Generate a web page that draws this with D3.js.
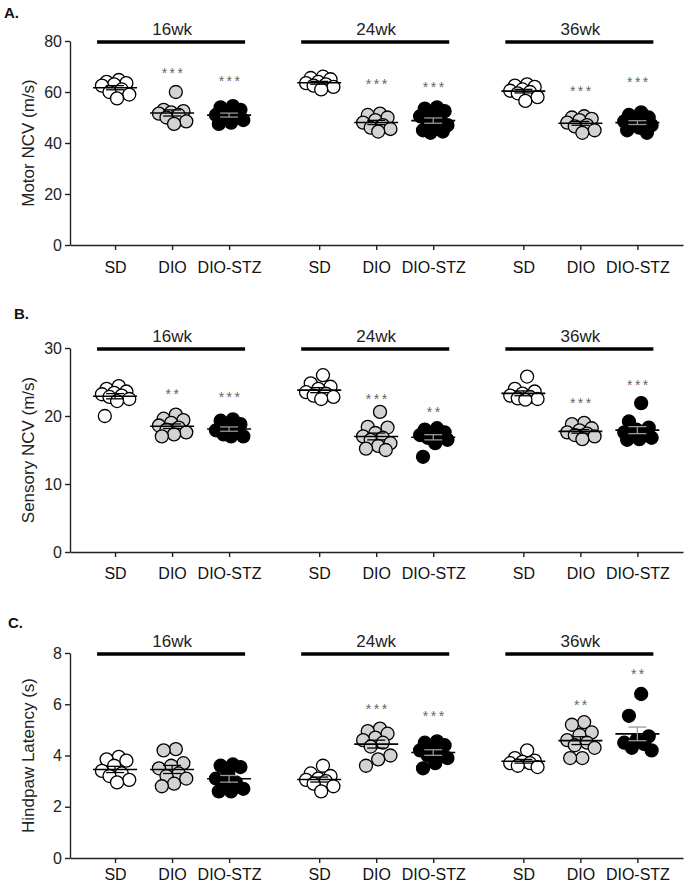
<!DOCTYPE html>
<html>
<head>
<meta charset="utf-8">
<script src="https://cdn.jsdelivr.net/npm/d3@7"></script>
<style>
  html, body { margin: 0; padding: 0; background: #fff; }
  svg { display: block; font-family: "Liberation Sans", Arial, Helvetica, sans-serif; }
</style>
</head>
<body>
<svg id="chart" width="689" height="888"></svg>
<script>
// ---------- DATA ----------
const groups = ["SD", "DIO", "DIO-STZ"];
const timepoints = ["16wk", "24wk", "36wk"];
const groupFills = ["#ffffff", "#d3d3d3", "#000000"];

// Motor NCV (m/s): order = [16wk SD, DIO, DIO-STZ, 24wk SD, DIO, DIO-STZ, 36wk SD, DIO, DIO-STZ]
const motorNCV = [
  [64.7, 64.0, 63.5, 63.0, 62.5, 61.0, 60.0, 59.0, 57.5],
  [60.0, 53.0, 52.5, 52.0, 51.5, 51.0, 50.0, 48.5, 47.5],
  [54.5, 54.0, 53.0, 52.0, 51.0, 50.5, 50.0, 49.0, 48.0, 47.5],
  [66.0, 65.5, 65.0, 64.0, 63.5, 63.0, 62.5, 62.0, 61.0],
  [51.5, 51.0, 50.0, 49.0, 48.0, 47.0, 46.0, 45.5, 44.5],
  [54.0, 53.5, 52.5, 51.5, 50.5, 49.0, 48.0, 47.0, 46.0, 45.0, 44.5, 44.0],
  [63.0, 62.5, 62.0, 61.0, 60.5, 60.0, 59.5, 58.0, 56.5],
  [50.5, 50.0, 49.5, 49.0, 48.0, 47.0, 46.5, 45.0, 44.0],
  [52.0, 51.0, 50.0, 49.0, 48.5, 48.0, 47.5, 47.0, 46.0, 45.0, 44.0]
];
const motorStars = ["", "***", "***", "", "***", "***", "", "***", "***"];
const motorStarLevel = [null, 68.6, 65.1, null, 64.3, 63.1, null, 61.5, 65.0];

// Sensory NCV (m/s)
const sensoryNCV = [
  [24.4, 24.0, 23.6, 23.4, 23.2, 23.0, 22.8, 22.5, 22.2, 20.0],
  [20.2, 19.6, 19.4, 19.0, 18.6, 18.3, 18.0, 17.6, 17.3, 17.0],
  [19.5, 19.3, 18.8, 18.3, 17.9, 17.6, 17.3, 17.0, 17.0],
  [26.0, 24.8, 24.3, 24.0, 23.5, 23.3, 23.0, 22.8, 22.5],
  [20.6, 18.4, 18.3, 17.5, 17.0, 16.8, 16.5, 16.0, 15.6, 15.2, 15.0],
  [18.2, 18.0, 17.6, 17.4, 17.2, 17.0, 16.8, 16.5, 16.0, 14.0],
  [25.8, 24.0, 23.6, 23.3, 23.0, 22.8, 22.6, 22.5, 22.4],
  [19.0, 18.8, 18.2, 17.9, 17.6, 17.4, 17.2, 17.0, 16.6],
  [21.9, 19.2, 18.3, 18.0, 17.6, 17.3, 17.0, 16.8, 16.6, 16.5]
];
const sensoryStars = ["", "**", "***", "", "***", "**", "", "***", "***"];
const sensoryStarLevel = [null, 23.6, 23.1, null, 22.8, 20.9, null, 22.3, 25.0];

// Hindpaw latency (s)
const hindpawLatency = [
  [3.95, 3.85, 3.8, 3.6, 3.4, 3.3, 3.2, 3.05, 2.95],
  [4.25, 4.2, 3.7, 3.6, 3.5, 3.3, 3.2, 3.1, 2.9, 2.8],
  [3.65, 3.6, 3.55, 3.3, 3.1, 2.95, 2.85, 2.7, 2.6, 2.6],
  [3.6, 3.3, 3.2, 3.1, 3.05, 3.0, 2.9, 2.8, 2.6],
  [5.05, 4.95, 4.85, 4.7, 4.6, 4.5, 4.35, 4.0, 3.85, 3.6],
  [4.55, 4.5, 4.4, 4.3, 4.2, 4.1, 4.0, 3.9, 3.7, 3.5],
  [4.2, 3.9, 3.8, 3.75, 3.7, 3.7, 3.6, 3.55],
  [5.3, 5.2, 4.9, 4.8, 4.6, 4.5, 4.4, 4.3, 3.9, 3.9],
  [6.4, 5.55, 4.75, 4.6, 4.5, 4.45, 4.3, 4.2]
];
const hindpawStars = ["", "", "", "", "***", "***", "", "**", "**"];
const hindpawStarLevel = [null, null, null, null, 5.91, 5.63, null, 6.05, 7.27];

const motorTicks = [0, 20, 40, 60, 80];
const sensoryTicks = [0, 10, 20, 30];
const hindpawTicks = [0, 2, 4, 6, 8];

// ---------- LAYOUT ----------
const svg = d3.select("#chart");
const axisLeftX = 70, axisRightX = 683;
const groupGap = 3.58; // category-position offset between timepoint blocks
const x = d3.scaleLinear().domain([-0.79, 9.96]).range([axisLeftX, axisRightX]);
const posOf = (t, g) => t * groupGap + g;
const R = 6.5;
const SPREAD = 16;

const panels = [
  { letter: "A.", letterX: 4, letterY: 18, title: "Motor NCV (m/s)", data: motorNCV, stars: motorStars, starLevel: motorStarLevel,
    ticks: motorTicks, top: 41, bottom: 245, labPad: 12 },
  { letter: "B.", letterX: 14, letterY: 319, title: "Sensory NCV (m/s)", data: sensoryNCV, stars: sensoryStars, starLevel: sensoryStarLevel,
    ticks: sensoryTicks, top: 348, bottom: 552, labPad: 11 },
  { letter: "C.", letterX: 8, letterY: 628, title: "Hindpaw Latency (s)", data: hindpawLatency, stars: hindpawStars, starLevel: hindpawStarLevel,
    ticks: hindpawTicks, top: 653, bottom: 858, labPad: 6 }
];

// deterministic scatter offsets: low-discrepancy sequence over value rank
function jitter(values) {
  const order = values.map((v, i) => i).sort((a, b) => values[b] - values[a]);
  const off = new Array(values.length).fill(0);
  order.forEach((i, rank) => {
    const u = ((rank + 1) * 0.6180339887) % 1;
    off[i] = (u - 0.5) * 2 * SPREAD;
  });
  return off;
}

panels.forEach(p => {
  const y = d3.scaleLinear().domain([0, d3.max(p.ticks)]).range([p.bottom, p.top]);
  const g = svg.append("g");

  // panel letter
  g.append("text").attr("x", p.letterX).attr("y", p.letterY)
    .attr("font-size", 15).attr("font-weight", "bold").attr("fill", "#111").text(p.letter);

  // y axis
  const ya = g.append("g").attr("transform", `translate(${axisLeftX},0)`)
    .call(d3.axisLeft(y).tickValues(p.ticks).tickSize(5).tickSizeOuter(0).tickPadding(3));
  ya.select(".domain").attr("stroke", "#222").attr("stroke-width", 1.4);
  ya.selectAll(".tick line").attr("stroke", "#222").attr("stroke-width", 1.4);
  ya.selectAll(".tick text").attr("font-size", 16).attr("fill", "#222")
    .attr("font-family", "'Liberation Sans', Arial, sans-serif");

  // y title
  g.append("text").attr("transform", `translate(34,${(p.top + p.bottom) / 2}) rotate(-90)`)
    .attr("text-anchor", "middle").attr("font-size", 17).attr("fill", "#222").text(p.title);

  // x axis
  const tickPos = [], tickLab = [];
  timepoints.forEach((tp, t) => groups.forEach((gr, gi) => { tickPos.push(posOf(t, gi)); tickLab.push(gr); }));
  const xa = g.append("g").attr("transform", `translate(0,${p.bottom})`)
    .call(d3.axisBottom(x).tickValues(tickPos).tickFormat((d, i) => tickLab[i]).tickSize(5).tickSizeOuter(0).tickPadding(p.labPad));
  xa.select(".domain").attr("stroke", "#222").attr("stroke-width", 1.4);
  xa.selectAll(".tick line").attr("stroke", "#222").attr("stroke-width", 1.4);
  xa.selectAll(".tick text").attr("font-size", 16).attr("fill", "#111")
    .attr("font-family", "'Liberation Sans', Arial, sans-serif");

  // timepoint headers
  timepoints.forEach((tp, t) => {
    const x0 = x(posOf(t, 0)) - 18, x1 = x(posOf(t, 2)) + 16;
    g.append("line").attr("x1", x0).attr("x2", x1).attr("y1", p.top + 1).attr("y2", p.top + 1)
      .attr("stroke", "#000").attr("stroke-width", 3.5);
    g.append("text").attr("x", x(posOf(t, 1))).attr("y", p.top - 6).attr("text-anchor", "middle")
      .attr("font-size", 17).attr("fill", "#222").text(tp);
  });

  // points + mean/sem
  p.data.forEach((vals, idx) => {
    const t = Math.floor(idx / 3), gi = idx % 3;
    const cx = x(posOf(t, gi));
    const offs = jitter(vals);
    g.append("g").selectAll("circle").data(vals).join("circle")
      .attr("cx", (d, i) => cx + offs[i]).attr("cy", d => y(d)).attr("r", R)
      .attr("fill", groupFills[gi]).attr("stroke", "#000").attr("stroke-width", 1.3);

    const m = d3.mean(vals);
    const sem = d3.deviation(vals) / Math.sqrt(vals.length);
    const lineCol = "#000";
    const semCol = gi === 2 ? "#999" : lineCol;
    g.append("line").attr("x1", cx - 22).attr("x2", cx + 22).attr("y1", y(m)).attr("y2", y(m))
      .attr("stroke", lineCol).attr("stroke-width", 1.6);
    g.append("line").attr("x1", cx).attr("x2", cx).attr("y1", y(m - sem)).attr("y2", y(m + sem))
      .attr("stroke", semCol).attr("stroke-width", 1.3);
    [m - sem, m + sem].forEach(v => {
      g.append("line").attr("x1", cx - 9).attr("x2", cx + 9).attr("y1", y(v)).attr("y2", y(v))
        .attr("stroke", semCol).attr("stroke-width", 1.3);
    });

    if (p.stars[idx]) {
      g.append("text").attr("x", cx + 1.5).attr("y", y(p.starLevel[idx]) + 7.5).attr("text-anchor", "middle")
        .attr("font-size", 14).attr("letter-spacing", 2.5).attr("fill", "#666").text(p.stars[idx]);
    }
  });
});
</script>
</body>
</html>
